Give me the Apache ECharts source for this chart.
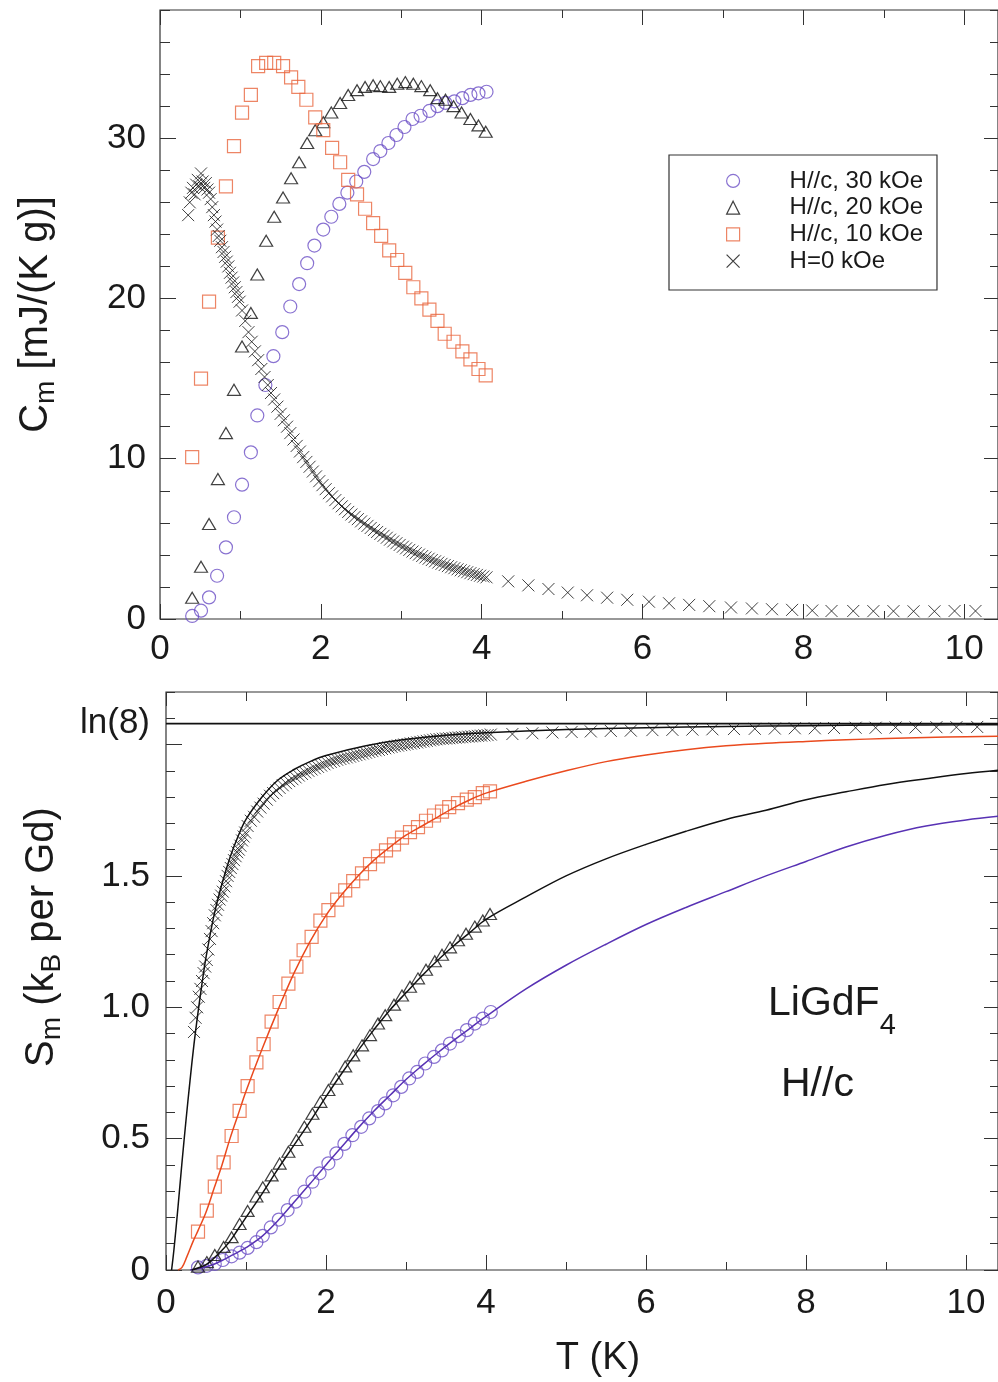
<!DOCTYPE html>
<html><head><meta charset="utf-8">
<script src="https://cdn.jsdelivr.net/npm/echarts@6/dist/echarts.min.js"></script>
<style>html,body{margin:0;padding:0;background:#fff}#c{width:998px;height:1382px}</style>
</head><body><div id="c"></div>
<script>
// ---------------- DATA ----------------
// Heat capacity, H//c 30 kOe
const c30T = [0.40,0.51,0.61,0.71,0.82,0.92,1.02,1.13,1.21,1.31,1.41,1.52,1.62,1.73,1.83,1.92,2.03,2.13,2.23,2.33,2.44,2.54,2.65,2.74,2.84,2.94,3.04,3.14,3.24,3.35,3.45,3.55,3.66,3.76,3.86,3.96,4.06];
const c30C = [0.19,0.52,1.35,2.7,4.47,6.35,8.38,10.4,12.7,14.6,16.4,17.9,19.5,20.9,22.2,23.3,24.3,25.1,25.9,26.6,27.3,27.9,28.7,29.2,29.7,30.2,30.7,31.2,31.4,31.7,32.0,32.2,32.3,32.5,32.7,32.8,32.9];
const c30S = [0.01,0.016,0.023,0.038,0.052,0.066,0.084,0.106,0.13,0.162,0.192,0.228,0.26,0.298,0.336,0.368,0.406,0.444,0.48,0.513,0.545,0.577,0.605,0.634,0.665,0.697,0.729,0.754,0.786,0.811,0.836,0.862,0.89,0.913,0.938,0.957,0.982];
// H//c 20 kOe
const c20T = [0.40,0.51,0.61,0.72,0.82,0.92,1.02,1.13,1.21,1.32,1.42,1.53,1.63,1.73,1.83,1.93,2.03,2.13,2.24,2.34,2.45,2.55,2.65,2.74,2.85,2.95,3.05,3.15,3.25,3.36,3.45,3.55,3.65,3.75,3.86,3.96,4.05];
const c20C = [1.33,3.26,5.93,8.73,11.6,14.3,17.0,19.1,21.5,23.6,25.1,26.3,27.5,28.5,29.7,30.5,31.0,31.6,32.2,32.7,33.0,33.2,33.3,33.25,33.2,33.4,33.5,33.4,33.25,33.0,32.5,32.4,32.0,31.6,31.2,30.8,30.4];
const c20S = [0.013,0.03,0.057,0.088,0.125,0.175,0.225,0.28,0.315,0.36,0.405,0.45,0.495,0.545,0.595,0.64,0.685,0.728,0.775,0.817,0.855,0.894,0.938,0.97,1.01,1.045,1.078,1.11,1.143,1.175,1.2,1.228,1.255,1.28,1.307,1.33,1.355];
// H//c 10 kOe
const c10T = [0.40,0.51,0.61,0.72,0.82,0.92,1.02,1.13,1.22,1.32,1.42,1.53,1.63,1.72,1.82,1.93,2.03,2.14,2.24,2.34,2.45,2.55,2.65,2.75,2.85,2.95,3.05,3.15,3.25,3.35,3.45,3.54,3.65,3.76,3.86,3.96,4.05];
const c10C = [10.1,15.0,19.8,23.8,27.0,29.5,31.6,32.7,34.5,34.7,34.7,34.5,33.8,33.2,32.4,31.3,30.5,29.4,28.5,27.4,26.5,25.6,24.7,23.9,23.0,22.4,21.6,20.7,20.0,19.3,18.6,17.8,17.3,16.7,16.2,15.6,15.2];
const c10S = [0.146,0.226,0.317,0.41,0.51,0.606,0.70,0.79,0.86,0.945,1.02,1.09,1.155,1.217,1.268,1.33,1.37,1.41,1.445,1.48,1.51,1.545,1.574,1.597,1.62,1.646,1.667,1.686,1.71,1.73,1.745,1.762,1.777,1.79,1.80,1.815,1.822];
// H = 0 (low T, dense mid T, sparse high T)
const h0LowT = [0.35,0.37,0.39,0.41,0.43,0.45,0.47,0.49,0.51,0.53,0.55,0.57,0.59,0.61,0.63,0.65,0.67,0.69,0.71,0.73,0.75,0.77,0.79,0.81,0.83,0.85,0.87,0.89,0.91,0.93,0.95,0.97,0.99];
const h0LowC = [25.2,26.0,26.6,26.9,26.5,27.1,27.4,27.0,27.8,27.3,26.9,27.2,26.8,26.6,26.2,25.7,25.2,24.8,24.3,23.9,23.6,23.2,22.9,22.6,22.3,22.0,21.6,21.3,21.0,20.7,20.4,20.1,19.8];
const h0LowS = [0.906,0.96,1.0,1.04,1.07,1.10,1.13,1.155,1.18,1.22,1.26,1.29,1.32,1.35,1.37,1.39,1.41,1.425,1.44,1.46,1.48,1.50,1.515,1.53,1.545,1.56,1.575,1.59,1.60,1.615,1.635,1.65,1.665];
const h0MidT = [1.02,1.06,1.10,1.14,1.18,1.22,1.26,1.30,1.34,1.38,1.42,1.46,1.50,1.54,1.58,1.62,1.66,1.70,1.74,1.78,1.82,1.86,1.90,1.94,1.98,2.02,2.06,2.10,2.14,2.18,2.22,2.26,2.30,2.34,2.38,2.42,2.46,2.50,2.54,2.58,2.62,2.66,2.70,2.74,2.78,2.82,2.86,2.90,2.94,2.98,3.02,3.06,3.10,3.14,3.18,3.22,3.26,3.30,3.34,3.38,3.42,3.46,3.50,3.54,3.58,3.62,3.66,3.70,3.74,3.78,3.82,3.86,3.90,3.94,3.98,4.02,4.06];
const h0MidC = [19.25,18.6,17.9,17.3,16.7,16.15,15.6,15.1,14.6,14.1,13.7,13.25,12.8,12.4,12.0,11.6,11.2,10.8,10.45,10.1,9.8,9.5,9.2,8.9,8.6,8.35,8.1,7.85,7.65,7.42,7.22,7.03,6.85,6.68,6.52,6.37,6.23,6.09,5.95,5.81,5.68,5.55,5.43,5.31,5.19,5.07,4.95,4.84,4.73,4.62,4.51,4.41,4.31,4.21,4.11,4.02,3.93,3.84,3.76,3.68,3.6,3.52,3.44,3.37,3.3,3.23,3.17,3.1,3.04,2.98,2.92,2.86,2.8,2.75,2.7,2.65,2.6];
const h0MidS = [1.69,1.71,1.725,1.745,1.76,1.775,1.79,1.805,1.815,1.825,1.835,1.845,1.853,1.861,1.868,1.875,1.882,1.888,1.894,1.90,1.905,1.91,1.915,1.92,1.925,1.93,1.934,1.938,1.942,1.945,1.948,1.951,1.954,1.957,1.96,1.963,1.966,1.969,1.972,1.975,1.978,1.98,1.983,1.986,1.989,1.991,1.994,1.996,1.998,2.0,2.002,2.004,2.006,2.008,2.01,2.012,2.014,2.016,2.018,2.02,2.021,2.022,2.023,2.024,2.025,2.026,2.027,2.028,2.029,2.03,2.031,2.032,2.033,2.034,2.035,2.036,2.038];
const h0HighT = [4.33,4.58,4.83,5.07,5.31,5.56,5.81,6.08,6.33,6.58,6.83,7.10,7.36,7.61,7.86,8.11,8.35,8.62,8.87,9.12,9.37,9.63,9.88,10.14];
const h0HighC = [2.35,2.1,1.87,1.65,1.48,1.33,1.2,1.08,0.98,0.88,0.8,0.72,0.66,0.61,0.57,0.53,0.5,0.5,0.49,0.49,0.48,0.48,0.5,0.5];
const h0HighS = [2.040,2.043,2.046,2.048,2.050,2.052,2.053,2.055,2.056,2.057,2.058,2.059,2.060,2.061,2.062,2.062,2.063,2.064,2.064,2.065,2.065,2.066,2.066,2.067];
// Entropy fit curves
const fit0T  = [0.07,0.1,0.15,0.2,0.25,0.3,0.35,0.4,0.45,0.5,0.6,0.7,0.8,0.9,1.0,1.2,1.4,1.6,1.8,2.0,2.5,3.0,3.5,4.0,5,6,7,8,9,10,10.5];
const fit0S  = [0,0.08,0.24,0.41,0.57,0.72,0.86,0.98,1.09,1.19,1.35,1.47,1.57,1.65,1.715,1.80,1.865,1.905,1.935,1.958,1.995,2.02,2.035,2.045,2.057,2.064,2.069,2.072,2.074,2.075,2.076];
const fit10T = [0.15,0.2,0.26,0.34,0.4,0.5,0.6,0.7,0.8,0.9,1.0,1.2,1.4,1.6,1.8,2.0,2.2,2.4,2.6,2.8,3.0,3.2,3.4,3.6,3.8,4.0,4.5,5,5.5,6,6.5,7,7.5,8,8.5,9,9.5,10,10.5];
const fit10S = [0,0.01,0.05,0.11,0.15,0.22,0.31,0.40,0.50,0.59,0.68,0.84,0.99,1.13,1.25,1.35,1.43,1.50,1.56,1.61,1.655,1.69,1.725,1.76,1.79,1.815,1.86,1.90,1.935,1.96,1.98,1.995,2.005,2.012,2.018,2.023,2.027,2.03,2.032];
const fit20T = [0.32,0.5,0.6,0.7,0.8,0.9,1.0,1.2,1.4,1.6,1.8,2.0,2.2,2.4,2.6,2.8,3.0,3.2,3.4,3.6,3.8,4.0,4.5,5.0,5.5,6.0,6.5,7.0,7.5,8.0,8.5,9.0,9.5,10.0,10.5];
const fit20S = [0,0.02,0.045,0.075,0.11,0.155,0.2,0.29,0.385,0.475,0.565,0.66,0.75,0.835,0.915,0.99,1.055,1.12,1.18,1.235,1.285,1.335,1.42,1.50,1.565,1.62,1.67,1.715,1.75,1.79,1.82,1.848,1.87,1.89,1.905];
const fit30T = [0.3,0.4,0.5,0.6,0.7,0.8,0.9,1.0,1.2,1.4,1.6,1.8,2.0,2.2,2.4,2.6,2.8,3.0,3.2,3.4,3.6,3.8,4.0,4.5,5.0,5.5,6.0,6.5,7.0,7.5,8.0,8.5,9.0,9.5,10.0,10.5];
const fit30S = [0,0.005,0.012,0.022,0.036,0.052,0.068,0.085,0.128,0.188,0.258,0.328,0.4,0.47,0.54,0.605,0.665,0.725,0.778,0.828,0.875,0.92,0.965,1.07,1.16,1.24,1.315,1.38,1.44,1.50,1.555,1.61,1.655,1.69,1.713,1.73];
// Tick labels / names
const xMajorTicks = [0,2,4,6,8,10];
const cTicks = [0,10,20,30];
const sMajorTicks = [0,0.5,1,1.5,2];
const LN8 = Math.log(8);
const sLabelValues = [0,0.5,1,1.5,LN8];
const seriesNames = ['H//c, 30 kOe','H//c, 20 kOe','H//c, 10 kOe','H=0 kOe'];

// ---------------- STYLE ----------------
const FONT = "'Liberation Sans', Arial, Helvetica, sans-serif";
const INK = '#1a1a1a', FRAME = '#333';
const PURPLE_MK = '#6b4fc6', PURPLE_LN = '#5832b4';
const ORANGE_MK = '#e8663f', ORANGE_LN = '#ea4a1e';
const BLACK = '#111';
const CROSS = 'path://M0,0L12,12M12,0L0,12';

const zip = (xs, ys) => xs.map((x, i) => [x, ys[i]]);
const cat = (...arrs) => [].concat(...arrs);

const h0T = cat(h0LowT, h0MidT, h0HighT);
const h0C = cat(h0LowC, h0MidC, h0HighC);
const h0S = cat(h0LowS, h0MidS, h0HighS);

const TOPX = 10.42, TOPY = 38, BOTX = 10.4, BOTY = 2.2;

function ax(g, pos, max, interval, len, extra) {
  const a = {
    type: 'value', gridIndex: g, position: pos, min: 0, max: max, interval: interval,
    axisLine: {show: false, onZero: false},
    splitLine: {show: false},
    axisTick: {show: true, inside: true, length: len, lineStyle: {color: FRAME, width: 1}},
    axisLabel: {show: false}
  };
  if (extra) {
    if (extra.customTicks) a.axisTick.customValues = extra.customTicks;
    if (extra.axisLabel) a.axisLabel = extra.axisLabel;
    ['name','nameLocation','nameGap','nameRotate','nameTextStyle'].forEach(k => { if (extra[k] !== undefined) a[k] = extra[k]; });
  }
  return a;
}
const tickLabel = (margin) => ({show: true, fontSize: 35, fontFamily: FONT, color: INK, margin: margin});
const titleRich = {a: {fontSize: 40, fontFamily: FONT, color: INK}, s: {fontSize: 28, fontFamily: FONT, color: INK, padding: [20, 0, 0, 0]}};

const xAxis = [
  ax(0, 'bottom', TOPX, 2, 15, {customTicks: xMajorTicks, axisLabel: Object.assign(tickLabel(13), {customValues: xMajorTicks})}),
  ax(0, 'bottom', TOPX, 1, 8),
  ax(0, 'top', TOPX, 2, 15, {customTicks: xMajorTicks}),
  ax(0, 'top', TOPX, 1, 8),
  ax(1, 'bottom', BOTX, 2, 15, {customTicks: xMajorTicks, axisLabel: Object.assign(tickLabel(16), {customValues: xMajorTicks}),
    name: 'T (K)', nameLocation: 'middle', nameGap: 70,
    nameTextStyle: {fontSize: 38, fontFamily: FONT, color: INK, padding: [0, 0, 0, 32]}}),
  ax(1, 'bottom', BOTX, 1, 8),
  ax(1, 'top', BOTX, 2, 14, {customTicks: xMajorTicks}),
  ax(1, 'top', BOTX, 1, 9)
];
const yAxis = [
  ax(0, 'left', TOPY, 10, 16, {customTicks: cTicks, axisLabel: Object.assign(tickLabel(14), {customValues: cTicks}),
    name: '{a|C}{s|m}{a| [mJ/(K g)]}', nameLocation: 'middle', nameRotate: 90, nameGap: 100,
    nameTextStyle: {rich: titleRich}}),
  ax(0, 'left', TOPY, 2, 10),
  ax(0, 'right', TOPY, 10, 14, {customTicks: cTicks}),
  ax(0, 'right', TOPY, 2, 8),
  ax(1, 'left', BOTY, 0.5, 16, {customTicks: sMajorTicks,
    axisLabel: Object.assign(tickLabel(16), {customValues: sLabelValues,
      formatter: v => Math.abs(v - LN8) < 1e-6 ? 'ln(8)' : (v === 0 ? '0' : v.toFixed(1))}),
    name: '{a|S}{s|m}{a| (k}{s|B}{a| per Gd)}', nameLocation: 'middle', nameRotate: 90, nameGap: 100,
    nameTextStyle: {padding: [0, 0, 0, 88], rich: titleRich}}),
  ax(1, 'left', BOTY, 0.1, 9),
  ax(1, 'right', BOTY, 0.5, 14, {customTicks: sMajorTicks}),
  ax(1, 'right', BOTY, 0.1, 8)
];

function scatter(name, xi, data, symbol, size, color, bw) {
  return {type: 'scatter', name: name, xAxisIndex: xi, yAxisIndex: xi, data: data,
    symbol: symbol, symbolSize: size, silent: true,
    itemStyle: {color: 'transparent', borderColor: color, borderWidth: bw || 1.2}};
}
function line(name, data, color, width) {
  return {type: 'line', name: name, xAxisIndex: 4, yAxisIndex: 4, data: data, showSymbol: false,
    smooth: 0.35, silent: true, z: 3,
    lineStyle: {color: color, width: width || 1.5}};
}

const legendStyle = [
  {icon: 'circle', color: PURPLE_MK},
  {icon: 'triangle', color: BLACK},
  {icon: 'rect', color: ORANGE_MK},
  {icon: CROSS, color: BLACK}
];

const option = {
  animation: false,
  backgroundColor: '#ffffff',
  textStyle: {fontFamily: FONT},
  grid: [
    {left: 160, top: 10, width: 838, height: 609, show: true, borderColor: FRAME, borderWidth: 1.2, backgroundColor: 'transparent', outerBoundsMode: 'none'},
    {left: 166, top: 692, width: 832, height: 578, show: true, borderColor: FRAME, borderWidth: 1.2, backgroundColor: 'transparent', outerBoundsMode: 'none'}
  ],
  xAxis: xAxis,
  yAxis: yAxis,
  legend: {
    show: true, orient: 'vertical', left: 669, top: 155,
    padding: [12.6, 14, 15.6, 57],
    borderColor: FRAME, borderWidth: 1.2, backgroundColor: '#fff',
    itemWidth: 13, itemHeight: 13, itemGap: 0, selectedMode: false,
    textStyle: {fontSize: 24, fontFamily: FONT, color: INK, lineHeight: 26.7, padding: [0, 0, 0, 45]},
    data: seriesNames.map((n, i) => ({name: n, icon: legendStyle[i].icon,
      itemStyle: {color: 'transparent', borderColor: legendStyle[i].color, borderWidth: 1.2}}))
  },
  graphic: [
    {type: 'text', x: 768, y: 1004, silent: true,
      style: {text: '{a|LiGdF}{s|4}', verticalAlign: 'middle', align: 'left',
        rich: {a: {fontSize: 41, fontFamily: FONT, fill: INK}, s: {fontSize: 29, fontFamily: FONT, fill: INK, padding: [44, 0, 0, 0]}}}},
    {type: 'text', x: 781, y: 1085, silent: true,
      style: {text: 'H//c', fontSize: 41, fontFamily: FONT, fill: INK, verticalAlign: 'middle', align: 'left'}}
  ],
  series: [
    // top: heat capacity
    scatter(seriesNames[0], 0, zip(c30T, c30C), 'circle', 13, PURPLE_MK),
    scatter(seriesNames[1], 0, zip(c20T, c20C), 'triangle', [13, 11], BLACK),
    scatter(seriesNames[2], 0, zip(c10T, c10C), 'rect', 13, ORANGE_MK),
    scatter(seriesNames[3], 0, zip(h0T, h0C), CROSS, 12, BLACK, 1),
    // bottom: entropy
    scatter('S 30', 4, zip(c30T, c30S), 'circle', 13, PURPLE_MK),
    scatter('S 20', 4, zip(c20T, c20S), 'triangle', [13, 11], BLACK),
    scatter('S 10', 4, zip(c10T, c10S), 'rect', 13, ORANGE_MK),
    scatter('S 0', 4, zip(h0T, h0S), CROSS, 12, BLACK, 1),
    line('fit 30', zip(fit30T, fit30S), PURPLE_LN),
    line('fit 20', zip(fit20T, fit20S), BLACK),
    line('fit 10', zip(fit10T, fit10S), ORANGE_LN),
    line('fit 0', zip(fit0T, fit0S), BLACK),
    line('ln8', [[0, LN8], [BOTX, LN8]], BLACK, 1.6)
  ]
};

const chart = echarts.init(document.getElementById('c'), null, {renderer: 'canvas'});
chart.setOption(option);
</script></body></html>
